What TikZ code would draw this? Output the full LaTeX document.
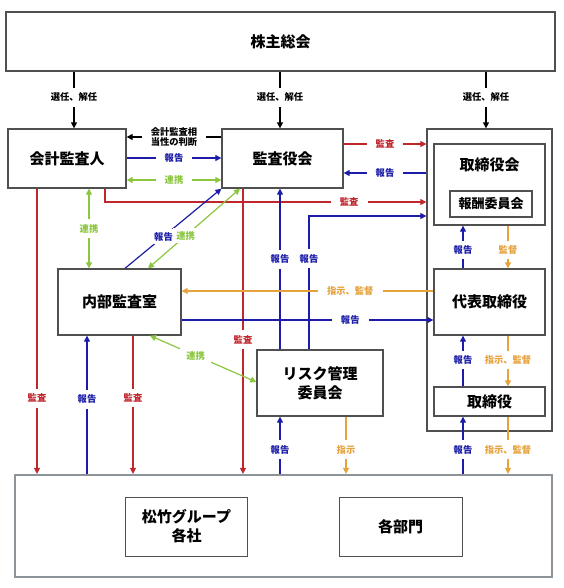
\documentclass[tikz,border=0pt]{standalone}
\usepackage{fontspec}
\newfontfamily\jp{Noto Sans CJK JP}
\usetikzlibrary{arrows.meta,positioning}

\definecolor{kred}{HTML}{C0272D}
\definecolor{kblue}{HTML}{1C1CA8}
\definecolor{kgreen}{HTML}{8CC63F}
\definecolor{korange}{HTML}{E6A23C}
\definecolor{boxline}{HTML}{505050}
\definecolor{groupline}{HTML}{8C9399}

\tikzset{
  box/.style={draw=boxline, line width=1.3pt, fill=white, inner sep=0pt, align=center,
    font=\jp\bfseries\fontsize{15}{19}\selectfont},
  midbox/.style={box, font=\jp\bfseries\fontsize{13}{16}\selectfont},
  lbl/.style={fill=white, inner xsep=9pt, inner ysep=5pt, align=center,
    font=\jp\bfseries\fontsize{9.3}{10.5}\selectfont},
  dlbl/.style={lbl, inner xsep=3pt, inner ysep=3pt},
  conn/.style={line width=1.2pt, -{Triangle[length=6pt,width=6pt]}},
  both/.style={line width=1.2pt, {Triangle[length=6pt,width=6pt]}-{Triangle[length=6pt,width=6pt]}},
}

\begin{document}
\begin{tikzpicture}[x=1pt,y=-1pt]
    \useasboundingbox (0,0) rectangle (563,588);

    % Group companies
    \node[draw=groupline, line width=2.2pt, minimum width=537pt, minimum height=102pt, inner sep=0pt] (group) at (283.5,526) {};
    \node[box, line width=1pt, minimum width=122pt, minimum height=59pt] (shochiku) at (186.5,526.5) {松竹グループ\\各社};
    \node[box, line width=1pt, minimum width=123pt, minimum height=59pt] (bumon) at (400.5,526.5) {各部門};

    % Boxes
    \node[box, minimum width=549pt, minimum height=59pt] (soukai) at (280.5,41.5) {株主総会};
    \node[box, minimum width=118pt, minimum height=59pt] (kaikei) at (67,158.5) {会計監査人};
    \node[box, minimum width=121pt, minimum height=59pt] (kansayaku) at (282.5,158.5) {監査役会};
    \node[box, minimum width=125pt, minimum height=302pt] (outer) at (489.5,280) {};
    \node[box, minimum width=111pt, minimum height=81pt] (torikai) at (489.5,184.5) {};
    \node[box, below=14pt of torikai.north, draw=none, fill=none] (torikaitxt) {取締役会};
    \node[midbox, minimum width=82pt, minimum height=26pt] (houshu) at (491,204) {報酬委員会};
    \node[box, minimum width=111pt, minimum height=66pt] (daihyo) at (489.5,302) {代表取締役};
    \node[box, minimum width=111pt, minimum height=29pt] (tori) at (489.5,401.5) {取締役};
    \node[box, minimum width=123pt, minimum height=66pt] (naibu) at (119.5,302) {内部監査室};
    \node[box, minimum width=126pt, minimum height=66pt] (risk) at (320,383) {リスク管理\\委員会};

    % Shareholders
    \draw[conn] (soukai.south -| 74,0) -- node[lbl,pos=0.45]{選任、解任} (kaikei.north -| 74,0);
    \draw[conn] (soukai.south -| 280,0) -- node[lbl,pos=0.45]{選任、解任} (kansayaku.north -| 280,0);
    \draw[conn] (soukai.south -| 486,0) -- node[lbl,pos=0.45]{選任、解任} (outer.north -| 486,0);

    % Accounting auditor and auditors
    \draw[conn] (kansayaku.west |- 0,137) -- node[lbl,inner ysep=2pt]{会計監査相\\当性の判断} (kaikei.east |- 0,137);
    \draw[conn,kblue] (kaikei.east |- 0,158) -- node[lbl,inner ysep=2pt]{報告} (kansayaku.west |- 0,158);
    \draw[both,kgreen] (kaikei.east |- 0,180) -- node[lbl,inner ysep=2pt]{連携} (kansayaku.west |- 0,180);
    \draw[conn,kred] (kansayaku.east |- 0,144) -- node[lbl,inner ysep=2pt]{監査} (outer.west |- 0,144);
    \draw[conn,kblue] (outer.west |- 0,173) -- node[lbl,inner ysep=2pt]{報告} (kansayaku.east |- 0,173);
    \draw[conn,kred] (kaikei.south -| 105,0) |- node[lbl,inner ysep=2pt,pos=0.88]{監査} (outer.west |- 0,202);

    % Risk committee
    \draw[conn,kblue] (risk.north -| 309,0) |- node[lbl,inner xsep=2pt,pos=0.34]{報告} (outer.west |- 0,216);
    \draw[conn,kblue] (risk.north -| 280,0) -- node[lbl,inner xsep=2pt,pos=0.56]{報告} (kansayaku.south -| 280,0);
    \draw[conn,kred] (kansayaku.south -| 243,0) -- node[lbl,inner xsep=2pt,pos=0.53]{監査} (group.north -| 243,0);

    % Internal audit
    \draw[both,kgreen] (naibu.north -| 89,0) -- node[lbl,inner xsep=2pt]{連携} (kaikei.south -| 89,0);
    \draw[conn,kblue] (naibu.north -| 125,0) -- node[dlbl,pos=0.4]{報告} (kansayaku.south west);
    \draw[both,kgreen] (kansayaku.south -| 240,0) -- node[dlbl,pos=0.59]{連携} (naibu.north -| 148,0);
    \draw[conn,korange] (daihyo.west |- 0,291) -- node[lbl,inner ysep=2pt,pos=0.33]{指示、監督} (naibu.east |- 0,291);
    \draw[conn,kblue] (naibu.east |- 0,320) -- node[lbl,inner ysep=2pt,pos=0.67]{報告} (daihyo.west |- 0,320);
    \draw[both,kgreen] (naibu.south -| 150,0) -- node[dlbl,inner sep=6pt,pos=0.43]{連携} (risk.west |- 0,382);

    % Down to the group
    \draw[conn,kred] (kaikei.south -| 37,0) -- node[lbl,inner xsep=2pt,pos=0.735]{監査} (group.north -| 37,0);
    \draw[conn,kred] (naibu.south -| 133,0) -- node[lbl,inner xsep=2pt,pos=0.45]{監査} (group.north -| 133,0);
    \draw[conn,kblue] (group.north -| 87,0) -- node[lbl,inner xsep=2pt,pos=0.54]{報告} (naibu.south -| 87,0);
    \draw[conn,kblue] (group.north -| 280,0) -- node[lbl,inner xsep=2pt,pos=0.42]{報告} (risk.south -| 280,0);
    \draw[conn,korange] (risk.south -| 346,0) -- node[lbl,inner xsep=2pt,pos=0.58]{指示} (group.north -| 346,0);

    % Board of directors
    \draw[conn,kblue] (daihyo.north -| 463,0) -- node[lbl,inner xsep=2pt,pos=0.43]{報告} (torikai.south -| 463,0);
    \draw[conn,korange] (torikai.south -| 508,0) -- node[lbl,inner xsep=2pt,pos=0.57]{監督} (daihyo.north -| 508,0);
    \draw[conn,kblue] (tori.north -| 463,0) -- node[lbl,inner xsep=2pt,pos=0.52]{報告} (daihyo.south -| 463,0);
    \draw[conn,korange] (daihyo.south -| 508,0) -- node[lbl,inner xsep=2pt,pos=0.48]{指示、監督} (tori.north -| 508,0);
    \draw[conn,kblue] (group.north -| 463,0) -- node[lbl,inner xsep=2pt,pos=0.42]{報告} (tori.south -| 463,0);
    \draw[conn,korange] (tori.south -| 508,0) -- node[lbl,inner xsep=2pt,pos=0.58]{指示、監督} (group.north -| 508,0);
\end{tikzpicture}
\end{document}
